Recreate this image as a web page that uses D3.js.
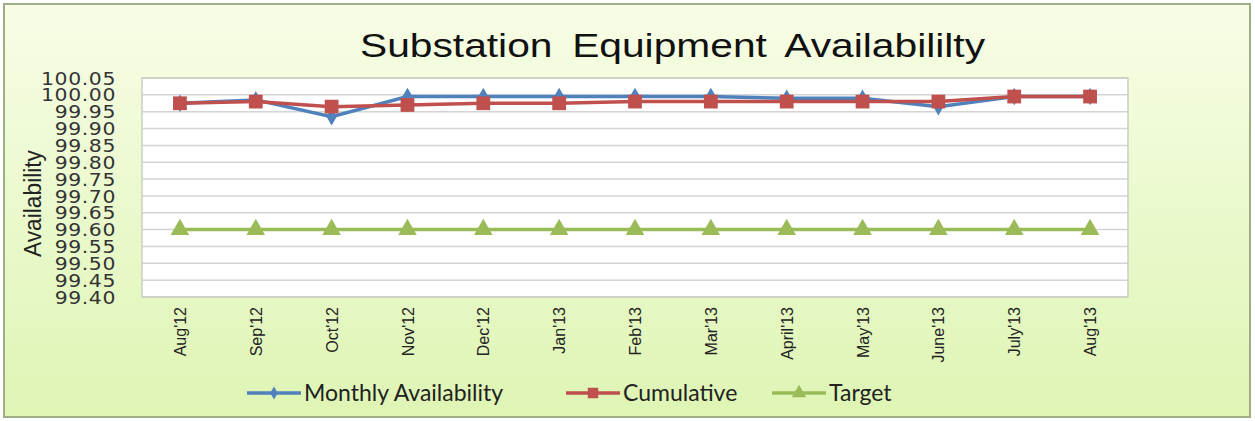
<!DOCTYPE html>
<html><head><meta charset="utf-8">
<script src="https://cdn.jsdelivr.net/npm/d3@7"></script>
<style>body{margin:0;background:#fff}svg{display:block}</style>
</head><body><svg id="c" width="1255" height="421"></svg>
<script>
const categories = ["Aug'12","Sep'12","Oct'12","Nov'12","Dec'12","Jan'13","Feb'13","Mar'13","April'13","May'13","June'13","July'13","Aug'13"];
const monthly = [99.975, 99.985, 99.935, 99.995, 99.995, 99.995, 99.995, 99.995, 99.99, 99.99, 99.965, 99.995, 99.995];
const cumulative = [99.975, 99.98, 99.965, 99.97, 99.975, 99.975, 99.98, 99.98, 99.98, 99.98, 99.98, 99.995, 99.995];
const target = [99.6, 99.6, 99.6, 99.6, 99.6, 99.6, 99.6, 99.6, 99.6, 99.6, 99.6, 99.6, 99.6];
const yTicks = [99.40,99.45,99.50,99.55,99.60,99.65,99.70,99.75,99.80,99.85,99.90,99.95,100.00,100.05];
const seriesNames = ["Monthly Availability","Cumulative","Target"];
const colors = ["#4f81bd","#c0504d","#9bbb59"];

const svg = d3.select("#c");
const defs = svg.append("defs");
const g = defs.append("linearGradient").attr("id","bg").attr("x1",0).attr("y1",0).attr("x2",0).attr("y2",1);
g.append("stop").attr("offset","0%").attr("stop-color","#f7fde6");
g.append("stop").attr("offset","100%").attr("stop-color","#def5b4");
svg.append("rect").attr("x",4).attr("y",4).attr("width",1246).attr("height",413)
  .attr("fill","url(#bg)").attr("stroke","#9fae86").attr("stroke-width",2);

const L=142,R=1128,T=78,B=297;
const x = d3.scalePoint().domain(categories).range([L,R]).padding(0.5);
const y = d3.scaleLinear().domain([99.40,100.05]).range([B,T]);

svg.append("rect").attr("x",L).attr("y",T).attr("width",R-L).attr("height",B-T).attr("fill","#fff");
svg.append("g").selectAll("line").data(yTicks).join("line")
  .attr("x1",L).attr("x2",R).attr("y1",d=>y(d)).attr("y2",d=>y(d))
  .attr("stroke","#d4d4d4").attr("stroke-width",1.5);
svg.append("rect").attr("x",L).attr("y",T).attr("width",R-L).attr("height",B-T)
  .attr("fill","none").attr("stroke","#c8cfc0").attr("stroke-width",1.5);

// y axis labels
const yAxis = d3.axisLeft(y).tickValues(yTicks).tickFormat(d3.format(".2f")).tickSize(0).tickPadding(0);
const ya = svg.append("g").attr("transform",`translate(116,0)`).call(yAxis);
ya.select(".domain").remove();
ya.selectAll("text").attr("font-family","DejaVu Sans").attr("font-size",17).attr("letter-spacing","0.5px")
  .attr("transform","scale(1.2,1)").attr("fill","#333").attr("dy","0.36em");

// x axis labels
const xAxis = d3.axisBottom(x).tickSize(0).tickPadding(0);
const xa = svg.append("g").attr("transform",`translate(0,${B})`).call(xAxis);
xa.select(".domain").remove();
xa.selectAll("text").attr("font-family","Liberation Sans").attr("font-size",16).attr("fill","#222")
  .attr("transform","rotate(-90)").attr("text-anchor","end").attr("x",-10).attr("y",0).attr("dy","0.35em");

// title
svg.append("text").attr("x",360).attr("y",57)
  .attr("font-family","Liberation Sans").attr("font-size",34).attr("word-spacing","7px").attr("fill","#111")
  .attr("textLength",625).attr("lengthAdjust","spacingAndGlyphs")
  .text("Substation Equipment Availabililty");
svg.append("text").attr("transform","translate(41,257) rotate(-90)")
  .attr("font-family","Liberation Sans").attr("font-size",23).attr("fill","#222")
  .attr("textLength",107).attr("lengthAdjust","spacingAndGlyphs").text("Availability");

const line = d3.line().x((d,i)=>x(categories[i])).y(d=>y(d));
const data = [monthly,cumulative,target];
const sym = [d3.symbolDiamond, d3.symbolSquare, d3.symbolTriangle];
const sizes = [90, 190, 150];
const drawOrder = [2,0,1];
drawOrder.forEach(k=>{
  svg.append("path").datum(data[k]).attr("d",line).attr("fill","none").attr("stroke",colors[k]).attr("stroke-width",3.5);
  svg.append("g").selectAll("path").data(data[k]).join("path")
    .attr("transform",(d,i)=>`translate(${x(categories[i])},${y(d)})`)
    .attr("d",d3.symbol(sym[k],sizes[k])).attr("fill",colors[k]);
});

// legend
const legX = [247, 566, 772];
seriesNames.forEach((n,k)=>{
  const lg = svg.append("g").attr("transform",`translate(${legX[k]},393)`);
  lg.append("line").attr("x1",0).attr("x2",54).attr("stroke",colors[k]).attr("stroke-width",3.5);
  lg.append("path").attr("transform","translate(27,0)").attr("d",d3.symbol(sym[k],[50,110,90][k])).attr("fill",colors[k]);
  lg.append("text").attr("x",57).attr("y",0).attr("dy","0.35em").attr("font-family","Lato").attr("font-size",23)
    .attr("fill","#222").text(n);
});
</script></body></html>
